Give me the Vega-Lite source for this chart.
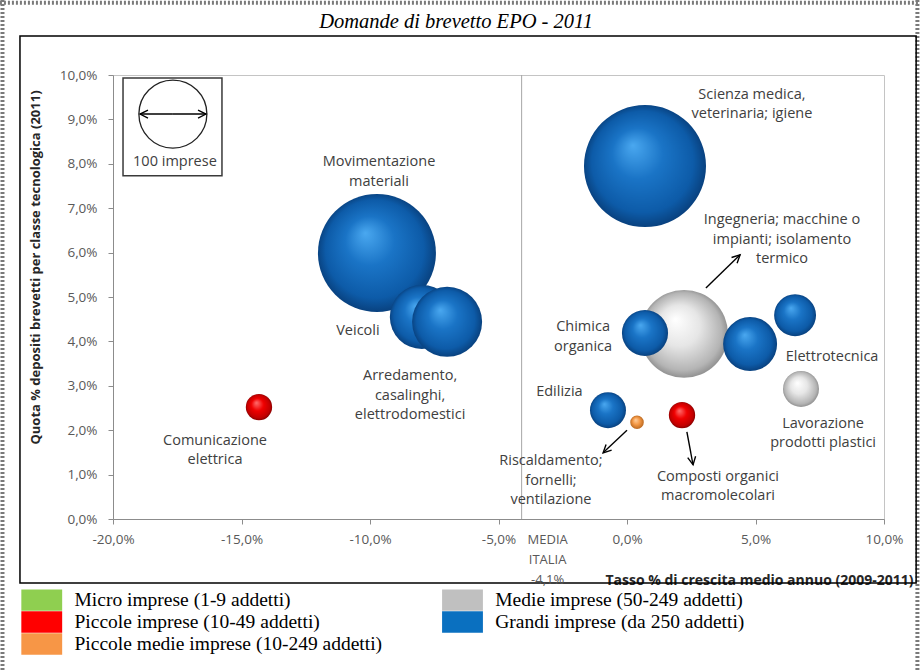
{
  "$schema": "https://vega.github.io/schema/vega-lite/v6.json",
  "width": 771,
  "height": 444,
  "autosize": {"type": "none"},
  "padding": {"left": 113, "top": 75, "right": 36, "bottom": 152},
  "background": "white",
  "config": {
    "view": {"stroke": "#c4c4c4", "strokeWidth": 1},
    "axis": {
      "grid": false,
      "domainColor": "#8c8c8c",
      "tickColor": "#8c8c8c",
      "tickSize": 5,
      "labelFont": "Open Sans",
      "labelFontSize": 13.5,
      "labelColor": "#595959",
      "labelFlush": false,
      "titleFont": "Open Sans",
      "titleFontWeight": "bold",
      "titleColor": "#262626"
    },
    "axisX": {"titleFontSize": 14},
    "axisY": {"titleFontSize": 13}
  },
  "datasets": {
    "bolle": [
      {"classe": "Movimentazione materiali", "dimensione": "Grandi imprese (da 250 addetti)", "x": -9.73, "y": 5.99, "imprese": 301},
      {"classe": "Veicoli", "dimensione": "Grandi imprese (da 250 addetti)", "x": -7.98, "y": 4.55, "imprese": 89},
      {"classe": "Arredamento, casalinghi, elettrodomestici", "dimensione": "Grandi imprese (da 250 addetti)", "x": -7.0, "y": 4.44, "imprese": 106},
      {"classe": "Comunicazione elettrica", "dimensione": "Piccole imprese (10-49 addetti)", "x": -14.32, "y": 2.52, "imprese": 15},
      {"classe": "Scienza medica, veterinaria; igiene", "dimensione": "Grandi imprese (da 250 addetti)", "x": 0.7, "y": 7.95, "imprese": 322},
      {"classe": "Ingegneria; macchine o impianti; isolamento termico", "dimensione": "Medie imprese (50-249 addetti)", "x": 2.22, "y": 4.17, "imprese": 167},
      {"classe": "Chimica organica", "dimensione": "Grandi imprese (da 250 addetti)", "x": 0.7, "y": 4.19, "imprese": 46},
      {"classe": "Elettrotecnica", "dimensione": "Grandi imprese (da 250 addetti)", "x": 4.79, "y": 3.94, "imprese": 63},
      {"classe": "Altra classe", "dimensione": "Grandi imprese (da 250 addetti)", "x": 6.54, "y": 4.59, "imprese": 38},
      {"classe": "Lavorazione prodotti plastici", "dimensione": "Medie imprese (50-249 addetti)", "x": 6.77, "y": 2.93, "imprese": 28},
      {"classe": "Edilizia", "dimensione": "Grandi imprese (da 250 addetti)", "x": -0.74, "y": 2.45, "imprese": 28},
      {"classe": "Riscaldamento; fornelli; ventilazione", "dimensione": "Piccole medie imprese (10-249 addetti)", "x": 0.39, "y": 2.18, "imprese": 4},
      {"classe": "Composti organici macromolecolari", "dimensione": "Piccole imprese (10-49 addetti)", "x": 2.14, "y": 2.34, "imprese": 15}
    ],
    "etichette": [
      {"testo": "Scienza medica,\nveterinaria; igiene", "x": 4.86, "y": 9.55},
      {"testo": "Movimentazione\nmateriali", "x": -9.65, "y": 8.04},
      {"testo": "Veicoli", "x": -10.47, "y": 4.23},
      {"testo": "Arredamento,\ncasalinghi,\nelettrodomestici", "x": -8.44, "y": 3.22},
      {"testo": "Comunicazione\nelettrica", "x": -16.03, "y": 1.76},
      {"testo": "Ingegneria; macchine o\nimpianti; isolamento\ntermico", "x": 6.03, "y": 6.73},
      {"testo": "Chimica\norganica", "x": -1.71, "y": 4.32},
      {"testo": "Elettrotecnica", "x": 7.98, "y": 3.65},
      {"testo": "Edilizia", "x": -2.63, "y": 2.86},
      {"testo": "Lavorazione\nprodotti plastici", "x": 7.63, "y": 2.14},
      {"testo": "Riscaldamento;\nfornelli;\nventilazione", "x": -2.96, "y": 1.3},
      {"testo": "Composti organici\nmacromolecolari", "x": 3.54, "y": 0.95},
      {"testo": "100 imprese", "x": -17.59, "y": 8.04}
    ],
    "frecce": [
      {"nome": "ingegneria", "x": 4.4, "y": 5.95, "x2": 3.07, "y2": 5.2},
      {"nome": "riscaldamento", "x": -0.93, "y": 1.49, "x2": 0.0, "y2": 2.0},
      {"nome": "composti", "x": 2.57, "y": 1.22, "x2": 2.33, "y2": 1.96},
      {"nome": "chiave destra", "x": -16.38, "y": 9.12, "x2": -17.67, "y2": 9.12},
      {"nome": "chiave sinistra", "x": -18.95, "y": 9.12, "x2": -17.67, "y2": 9.12}
    ],
    "riquadri": [
      {"nome": "cornice", "x": -23.62, "x2": 11.25, "y": 10.88, "y2": -1.44},
      {"nome": "chiave", "x": -19.61, "x2": -15.76, "y": 9.93, "y2": 7.73}
    ],
    "bordo": [
      {"lato": "sinistro", "x": -24.3, "x2": -24.3, "y": 11.69, "y2": -3.42},
      {"lato": "superiore", "x": -24.4, "x2": 11.4, "y": 11.63, "y2": 11.63},
      {"lato": "destro", "x": 11.3, "x2": 11.3, "y": 11.69, "y2": -3.42}
    ],
    "scala": [{"x": -17.67, "y": 9.12, "imprese": 100}],
    "media": [{"x": -4.1, "y": 0, "y2": 10, "etichetta": "MEDIA\nITALIA\n-4,1%"}],
    "titolo": [{"testo": "Domande di brevetto EPO - 2011", "x": -6.65, "y": 11.19}],
    "dimensioni": [
      {"dimensione": "Micro imprese (1-9 addetti)"},
      {"dimensione": "Piccole imprese (10-49 addetti)"},
      {"dimensione": "Piccole medie imprese (10-249 addetti)"},
      {"dimensione": "Medie imprese (50-249 addetti)"},
      {"dimensione": "Grandi imprese (da 250 addetti)"}
    ]
  },
  "encoding": {
    "x": {
      "field": "x", "type": "quantitative",
      "scale": {"domain": [-20, 10], "nice": false, "zero": false},
      "axis": {
        "values": [-20, -15, -10, -5, 0, 5, 10],
        "labelExpr": "(datum.value < 0 ? '-' : '') + replace(format(abs(datum.value), '.1f'), '.', ',') + '%'",
        "labelPadding": 8,
        "title": "Tasso % di crescita medio annuo (2009-2011)",
        "titleFontSize": 14,
        "titleAnchor": "end",
        "titleAlign": "right",
        "titleBaseline": "middle",
        "titleX": 800,
        "titleY": 61
      }
    },
    "y": {
      "field": "y", "type": "quantitative",
      "scale": {"domain": [0, 10], "nice": false, "zero": false},
      "axis": {
        "values": [0, 1, 2, 3, 4, 5, 6, 7, 8, 9, 10],
        "labelExpr": "replace(format(datum.value, '.1f'), '.', ',') + '%'",
        "labelPadding": 11,
        "title": "Quota % depositi brevetti per classe tecnologica (2011)",
        "titleFontSize": 13,
        "titleAlign": "center",
        "titleBaseline": "middle",
        "titleX": -78,
        "titleY": 192
      }
    }
  },
  "layer": [
    {
      "data": {"name": "bordo"},
      "mark": {"type": "rule", "color": "#7a7a7a", "strokeWidth": 4, "strokeDash": [2, 2]},
      "encoding": {"x2": {"field": "x2"}, "y2": {"field": "y2"}}
    },
    {
      "data": {"name": "riquadri"},
      "transform": [{"filter": "datum.nome === 'cornice'"}],
      "mark": {"type": "rect", "filled": false, "color": "black", "strokeWidth": 1.5},
      "encoding": {"x2": {"field": "x2"}, "y2": {"field": "y2"}}
    },
    {
      "data": {"name": "titolo"},
      "mark": {"type": "text", "font": "Liberation Serif", "fontStyle": "italic", "fontSize": 20.5, "color": "black", "align": "center", "baseline": "middle"},
      "encoding": {"text": {"field": "testo"}}
    },
    {
      "data": {"name": "media"},
      "mark": {"type": "rule", "color": "#a6a6a6", "strokeWidth": 1},
      "encoding": {"y2": {"field": "y2"}}
    },
    {
      "data": {"name": "dimensioni"},
      "mark": {"type": "square", "opacity": 0},
      "encoding": {
        "color": {
          "field": "dimensione",
          "type": "nominal",
          "sort": null,
          "scale": {
            "domain": ["Micro imprese (1-9 addetti)", "Piccole imprese (10-49 addetti)", "Piccole medie imprese (10-249 addetti)", "Medie imprese (50-249 addetti)", "Grandi imprese (da 250 addetti)"],
            "range": ["#8fcf50", "#ff0000", "#f79646", "#c0c0c0", "#0a70c0"]
          },
          "legend": {
            "title": null,
            "orient": "none",
            "legendX": -82.25,
            "legendY": 514,
            "columns": 2,
            "padding": 0,
            "rowPadding": 0,
            "columnPadding": 58.75,
            "symbolType": "M-1.9,-1L1.9,-1L1.9,1L-1.9,1Z",
            "symbolSize": 462,
            "symbolStrokeWidth": 0,
            "symbolOpacity": 1,
            "labelFont": "Liberation Serif",
            "labelFontSize": 19.5,
            "labelColor": "black",
            "labelOffset": 21.75,
            "labelLimit": 500
          }
        }
      }
    },
    {
      "data": {"name": "bolle"},
      "transform": [{"filter": "datum.dimensione === 'Medie imprese (50-249 addetti)'"}],
      "mark": {
        "type": "circle",
        "opacity": 1,
        "fill": {"gradient": "radial", "x1": 0.4, "y1": 0.33, "r1": 0, "x2": 0.5, "y2": 0.5, "r2": 0.52,
          "stops": [{"offset": 0, "color": "#ffffff"}, {"offset": 0.45, "color": "#e6e6e6"}, {"offset": 0.85, "color": "#b4b4b4"}, {"offset": 1, "color": "#8a8a8a"}]}
      },
      "encoding": {
        "size": {"field": "imprese", "type": "quantitative", "scale": {"domain": [0, 100], "range": [0, 4624], "zero": true}, "legend": null}
      }
    },
    {
      "data": {"name": "bolle"},
      "transform": [{"filter": "datum.dimensione === 'Grandi imprese (da 250 addetti)'"}],
      "mark": {
        "type": "circle",
        "opacity": 1,
        "fill": {"gradient": "radial", "x1": 0.4, "y1": 0.33, "r1": 0, "x2": 0.5, "y2": 0.5, "r2": 0.52,
          "stops": [{"offset": 0, "color": "#4aa8f0"}, {"offset": 0.4, "color": "#1a74c6"}, {"offset": 0.8, "color": "#0d5ba8"}, {"offset": 1, "color": "#083d78"}]}
      },
      "encoding": {
        "size": {"field": "imprese", "type": "quantitative", "legend": null}
      }
    },
    {
      "data": {"name": "bolle"},
      "transform": [{"filter": "datum.dimensione === 'Piccole imprese (10-49 addetti)'"}],
      "mark": {
        "type": "circle",
        "opacity": 1,
        "fill": {"gradient": "radial", "x1": 0.4, "y1": 0.33, "r1": 0, "x2": 0.5, "y2": 0.5, "r2": 0.52,
          "stops": [{"offset": 0, "color": "#ff7070"}, {"offset": 0.45, "color": "#f00000"}, {"offset": 0.85, "color": "#c00000"}, {"offset": 1, "color": "#7a0000"}]}
      },
      "encoding": {
        "size": {"field": "imprese", "type": "quantitative", "legend": null}
      }
    },
    {
      "data": {"name": "bolle"},
      "transform": [{"filter": "datum.dimensione === 'Piccole medie imprese (10-249 addetti)'"}],
      "mark": {
        "type": "circle",
        "opacity": 1,
        "fill": {"gradient": "radial", "x1": 0.4, "y1": 0.33, "r1": 0, "x2": 0.5, "y2": 0.5, "r2": 0.52,
          "stops": [{"offset": 0, "color": "#ffd0a0"}, {"offset": 0.5, "color": "#f59a48"}, {"offset": 1, "color": "#b8661e"}]}
      },
      "encoding": {
        "size": {"field": "imprese", "type": "quantitative", "legend": null}
      }
    },
    {
      "data": {"name": "riquadri"},
      "transform": [{"filter": "datum.nome === 'chiave'"}],
      "mark": {"type": "rect", "filled": false, "color": "#3a3a3a", "strokeWidth": 1.5},
      "encoding": {"x2": {"field": "x2"}, "y2": {"field": "y2"}}
    },
    {
      "data": {"name": "scala"},
      "mark": {"type": "point", "shape": "circle", "filled": false, "color": "#222222", "strokeWidth": 1.3, "opacity": 1},
      "encoding": {
        "size": {"field": "imprese", "type": "quantitative", "legend": null}
      }
    },
    {
      "data": {"name": "frecce"},
      "mark": {"type": "rule", "color": "black", "strokeWidth": 1.4},
      "encoding": {"x2": {"field": "x2"}, "y2": {"field": "y2"}}
    },
    {
      "data": {"name": "frecce"},
      "transform": [{"filter": "datum.nome === 'ingegneria'"}],
      "mark": {"type": "point", "shape": "M-0.8,1.6L0,0L0.8,1.6", "size": 100, "filled": false, "color": "black", "strokeWidth": 1.4, "opacity": 1, "angle": 46}
    },
    {
      "data": {"name": "frecce"},
      "transform": [{"filter": "datum.nome === 'riscaldamento'"}],
      "mark": {"type": "point", "shape": "M-0.8,1.6L0,0L0.8,1.6", "size": 100, "filled": false, "color": "black", "strokeWidth": 1.4, "opacity": 1, "angle": 226}
    },
    {
      "data": {"name": "frecce"},
      "transform": [{"filter": "datum.nome === 'composti'"}],
      "mark": {"type": "point", "shape": "M-0.8,1.6L0,0L0.8,1.6", "size": 100, "filled": false, "color": "black", "strokeWidth": 1.4, "opacity": 1, "angle": 170}
    },
    {
      "data": {"name": "frecce"},
      "transform": [{"filter": "datum.nome === 'chiave destra'"}],
      "mark": {"type": "point", "shape": "M-0.8,1.6L0,0L0.8,1.6", "size": 100, "filled": false, "color": "black", "strokeWidth": 1.3, "opacity": 1, "angle": 90}
    },
    {
      "data": {"name": "frecce"},
      "transform": [{"filter": "datum.nome === 'chiave sinistra'"}],
      "mark": {"type": "point", "shape": "M-0.8,1.6L0,0L0.8,1.6", "size": 100, "filled": false, "color": "black", "strokeWidth": 1.3, "opacity": 1, "angle": 270}
    },
    {
      "data": {"name": "etichette"},
      "mark": {"type": "text", "font": "Open Sans", "fontSize": 14.5, "color": "#404040", "align": "center", "baseline": "middle", "lineBreak": "\n", "lineHeight": 19.5},
      "encoding": {"text": {"field": "testo"}}
    },
    {
      "data": {"name": "media"},
      "mark": {"type": "text", "font": "Open Sans", "fontSize": 13, "color": "#595959", "align": "center", "baseline": "middle", "lineBreak": "\n", "lineHeight": 20, "dx": 26, "dy": 21},
      "encoding": {"text": {"field": "etichetta"}}
    }
  ]
}
